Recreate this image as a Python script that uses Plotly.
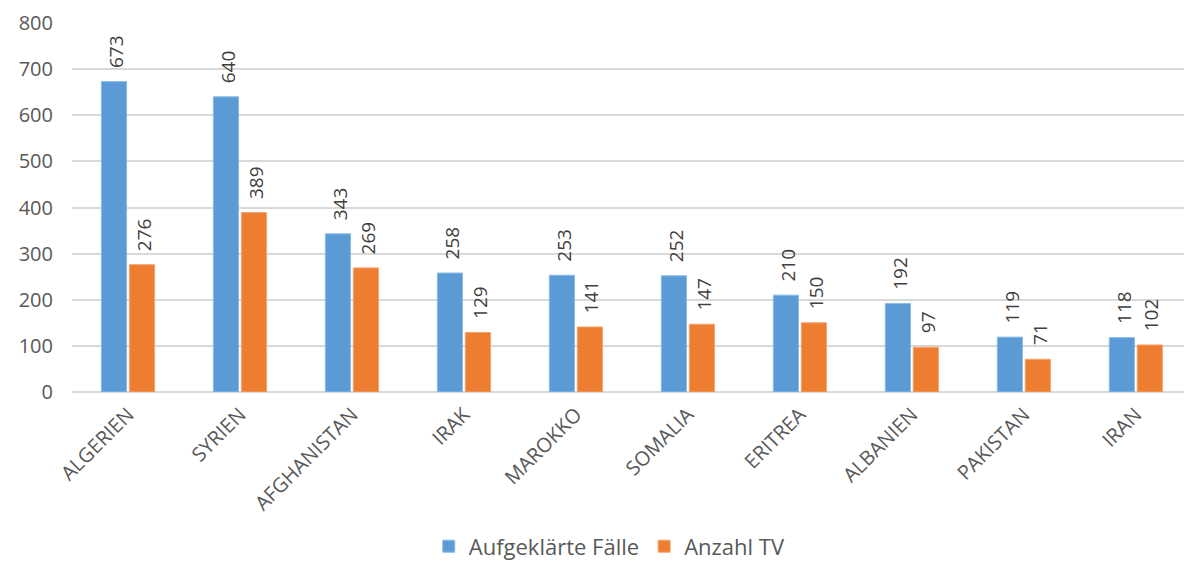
import plotly.graph_objects as go

categories = ["ALGERIEN", "SYRIEN", "AFGHANISTAN", "IRAK", "MAROKKO",
              "SOMALIA", "ERITREA", "ALBANIEN", "PAKISTAN", "IRAN"]
aufgeklaert = [673, 640, 343, 258, 253, 252, 210, 192, 119, 118]
anzahl_tv = [276, 389, 269, 129, 141, 147, 150, 97, 71, 102]
y_ticks = [0, 100, 200, 300, 400, 500, 600, 700, 800]

FONT = "'Open Sans', sans-serif"
TXT = "#595959"

fig = go.Figure()
fig.add_trace(go.Bar(
    name="Aufgeklärte Fälle", x=categories, y=aufgeklaert,
    marker=dict(color="#5B9BD5", line=dict(color="#8DBBE6", width=1)),
))
fig.add_trace(go.Bar(
    name="Anzahl TV", x=categories, y=anzahl_tv,
    marker=dict(color="#ED7D31", line=dict(color="#F4A56E", width=1)),
))

annotations = []
for series, shift in ((aufgeklaert, -14), (anzahl_tv, 14)):
    for cat, val in zip(categories, series):
        annotations.append(dict(
            x=cat, y=val, xref="x", yref="y", text=str(val), showarrow=False,
            textangle=-90, xanchor="center", yanchor="bottom",
            xshift=shift + 2, yshift=12,
            font=dict(size=19, color="#404040", family=FONT),
        ))

fig.update_layout(
    width=1184, height=568,
    margin=dict(l=72, r=0, t=23, b=176),
    paper_bgcolor="white", plot_bgcolor="white",
    barmode="group", bargap=0.5, bargroupgap=0.1,
    font=dict(family=FONT, color=TXT),
    annotations=annotations,
    legend=dict(orientation="h", x=0.515, xanchor="center", xref="container",
                y=0.038, yanchor="middle", yref="container",
                font=dict(size=22, color=TXT, family=FONT),
                itemwidth=30, traceorder="normal"),
    xaxis=dict(range=[-0.5, 9.43], tickangle=-45, tickfont=dict(size=20, color=TXT),
               showgrid=False, showline=False, ticks="", ticklabelstandoff=6,
               automargin=False),
    yaxis=dict(range=[0, 800], tickvals=y_ticks, tickfont=dict(size=20, color=TXT),
               showgrid=True, gridcolor="#D9D9D9", gridwidth=2, zeroline=True,
               zerolinecolor="#D9D9D9", zerolinewidth=2, ticks="", ticklabelstandoff=18,
               showline=False, automargin=False),
)

fig.write_html("out.html")
